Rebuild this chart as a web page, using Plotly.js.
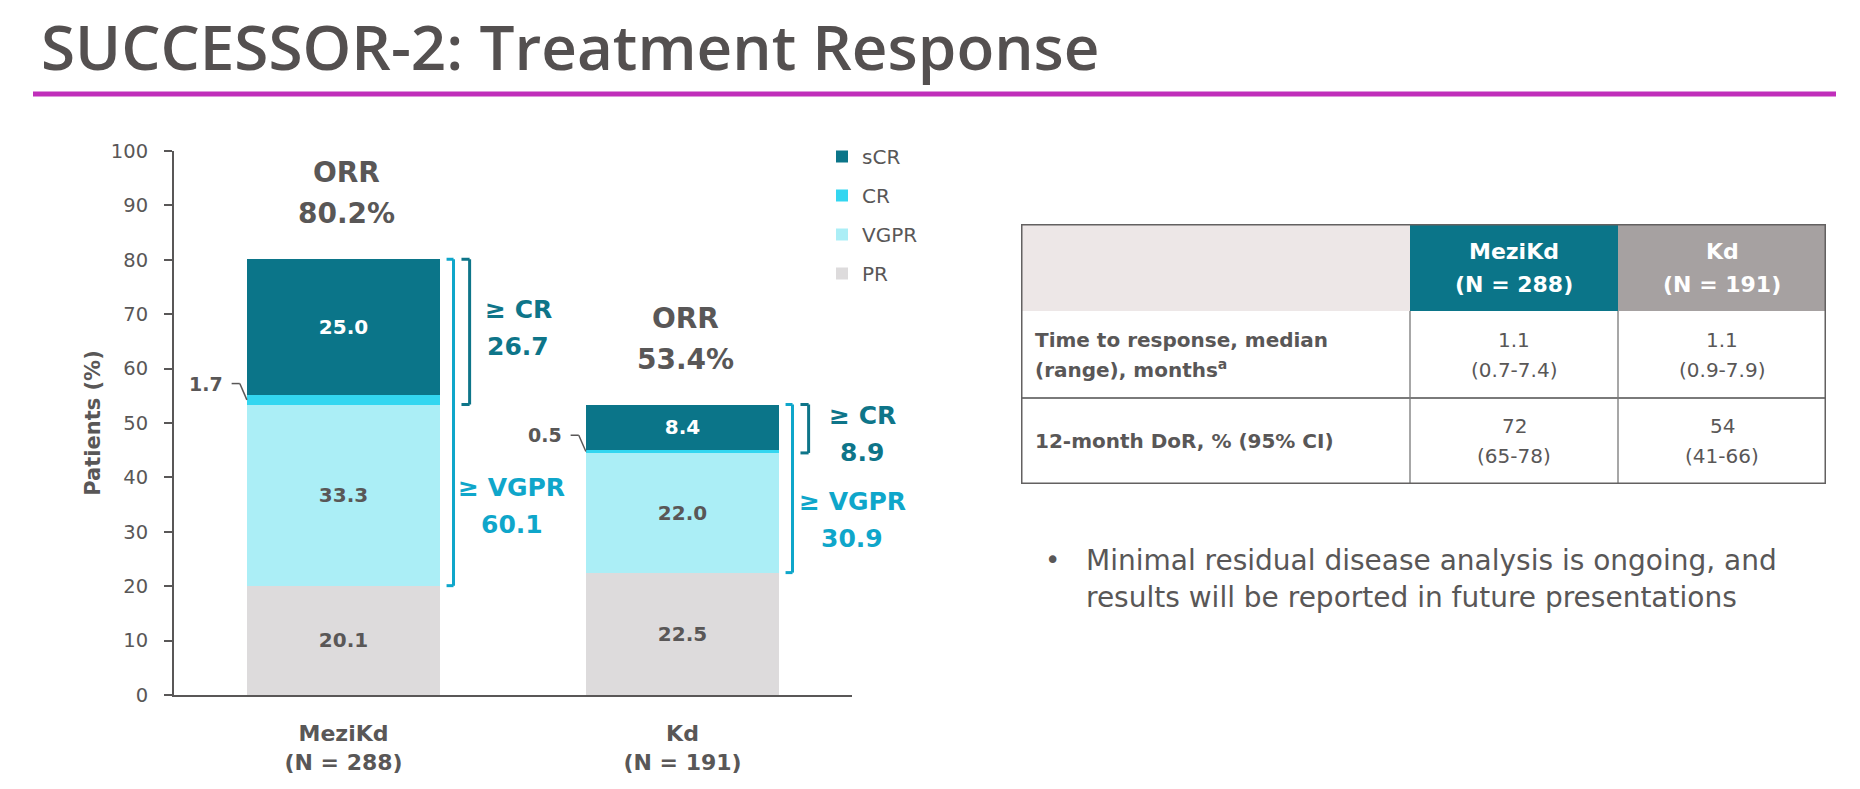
<!DOCTYPE html>
<html><head><meta charset="utf-8">
<script src="https://cdn.plot.ly/plotly-3.0.1.min.js"></script>
<style>html,body{margin:0;padding:0;background:#fff;}#chart{width:1860px;height:789px;}</style>
</head><body><div id="chart"></div>
<script>
// ---------- data ----------
const categories = ['MeziKd', 'Kd'];
const categoryN = ['(N = 288)', '(N = 191)'];
const prVals = [20.1, 22.5];
const vgprVals = [33.3, 22.0];
const crVals = [1.7, 0.5];
const scrVals = [25.0, 8.4];
const orrVals = [80.2, 53.4];
const geCRVals = [26.7, 8.9];
const geVGPRVals = [60.1, 30.9];
const yTickVals = [0, 10, 20, 30, 40, 50, 60, 70, 80, 90, 100];

const tableHeadTop = ['MeziKd', 'Kd'];
const tableHeadN = ['(N = 288)', '(N = 191)'];
const tableRowLabels = [['Time to response, median', '(range), months<sup>a</sup>'], ['12-month DoR, % (95% CI)']];
const tableMeziKd = [['1.1', '(0.7-7.4)'], ['72', '(65-78)']];
const tableKd = [['1.1', '(0.9-7.9)'], ['54', '(41-66)']];
const bulletLines = ['Minimal residual disease analysis is ongoing, and', 'results will be reported in future presentations'];

// ---------- style ----------
const W = 1860, H = 789;
const GRAY = '#595757';
const FONT = 'DejaVu Sans';
const C_SCR = '#0B7589', C_CR = '#33D6F0', C_VGPR = '#ABEEF6', C_PR = '#DDDBDC';
const C_BR_VGPR = '#0FA6CA', C_BR_CR = '#0E7589';
const PLOT = {x0: 174, x1: 852, yTop: 151, yBot: 695};
const X_RANGE = [-0.5, 1.5];
const TABLE = {x0: 1021, x1: 1826, y0: 224, y1: 484};
const colEdges = [0, 389, 597, 805];
const rowEdges = [0, 87, 174, 260];

const xIdx = categories.map((c, i) => i);
const fmt = v => v.toFixed(1);
// category-axis position -> paper fraction (for labels that sit right of the axis range)
const xPaper = v => (PLOT.x0 + (v - X_RANGE[0]) / (X_RANGE[1] - X_RANGE[0]) * (PLOT.x1 - PLOT.x0)) / W;

function barTrace(name, vals, color, textColor, showText, rank) {
  const t = {
    type: 'bar', name: name, x: categories, y: vals,
    marker: {color: color, line: {width: 0}},
    textposition: showText ? 'inside' : 'none',
    legendgroup: name, legendrank: rank, hoverinfo: 'skip', cliponaxis: false
  };
  if (showText) {
    t.text = vals.map(fmt);
    t.insidetextanchor = 'middle';
    t.constraintext = 'none';
    t.textfont = {family: FONT, size: 20, color: textColor, weight: 'bold'};
  }
  return t;
}

const traces = [
  barTrace('PR', prVals, C_PR, GRAY, true, 4),
  barTrace('VGPR', vgprVals, C_VGPR, GRAY, true, 3),
  barTrace('CR', crVals, C_CR, GRAY, false, 2),
  barTrace('sCR', scrVals, C_SCR, '#FFFFFF', true, 1),
  {type: 'scatter', x: [], y: [], xaxis: 'x2', yaxis: 'y2', showlegend: false, hoverinfo: 'skip'}
];

const shapes = [];
const annotations = [];

// purple rule under title
shapes.push({type: 'line', xref: 'paper', yref: 'paper', x0: 33 / W, x1: 1836 / W, y0: 1 - 94 / H, y1: 1 - 94 / H,
  line: {color: '#C02EBA', width: 5}});

// brackets
function bracket(xc, y0, y1, outer, inner, color) {
  const L = {color: color, width: 3};
  shapes.push({type: 'line', xref: 'x', yref: 'y', x0: xc + outer, x1: xc + outer, y0: y0, y1: y1, line: L});
  shapes.push({type: 'line', xref: 'x', yref: 'y', x0: xc + inner, x1: xc + outer, y0: y1, y1: y1, line: L});
  shapes.push({type: 'line', xref: 'x', yref: 'y', x0: xc + inner, x1: xc + outer, y0: y0, y1: y0, line: L});
}
function lines2(xref, yref, x, y, lines, spacing, font, xanchor) {
  lines.forEach((t, k) => {
    annotations.push({xref: xref, yref: yref, x: x, y: y, text: t, showarrow: false,
      xanchor: xanchor || 'center', yanchor: 'middle',
      yshift: ((lines.length - 1) / 2 - k) * spacing, font: font});
  });
}

xIdx.forEach(i => {
  const pr = prVals[i], vg = vgprVals[i], cr = crVals[i], sc = scrVals[i];
  const total = pr + vg + cr + sc;
  bracket(i, pr, total, 0.3245, 0.304, C_BR_VGPR);
  bracket(i, pr + vg, total, 0.372, 0.348, C_BR_CR);
  // ORR labels
  lines2('x', 'y', i + 0.008, total + 12.1, ['ORR', orrVals[i].toFixed(1) + '%'], 41,
    {family: FONT, size: 28, color: GRAY, weight: 'bold'});
  // >= CR
  lines2('paper', 'y', xPaper(i + (i === 0 ? 0.515 : 0.53)), (i === 0 ? 67.4 : 48.0), ['\u2265 CR', fmt(geCRVals[i])], 37,
    {family: FONT, size: 25, color: C_BR_CR, weight: 'bold'});
  // >= VGPR
  lines2('paper', 'y', xPaper(i + (i === 0 ? 0.497 : 0.50)), (i === 0 ? 34.7 : 32.1), ['\u2265 VGPR', fmt(geVGPRVals[i])], 37,
    {family: FONT, size: 25, color: C_BR_VGPR, weight: 'bold'});
  // CR callout
  const crMid = pr + vg + cr / 2;
  const ly = crMid + 3;
  shapes.push({type: 'line', xref: 'x', yref: 'y', x0: i - 0.33, x1: i - 0.306, y0: ly, y1: ly, line: {color: GRAY, width: 1.5}});
  shapes.push({type: 'line', xref: 'x', yref: 'y', x0: i - 0.306, x1: i - 0.285, y0: ly, y1: crMid, line: {color: GRAY, width: 1.5}});
  annotations.push({xref: 'x', yref: 'y', x: i - 0.35, y: ly, text: fmt(cr), showarrow: false,
    xanchor: 'right', yanchor: 'middle', font: {family: FONT, size: 19, color: GRAY, weight: 'bold'}});
});

// ---------- table (hidden axes x2/y2, pixel-like units) ----------
const hdrFills = ['#EDE7E7', '#0B7589', '#A6A1A1'];
hdrFills.forEach((f, c) => {
  shapes.push({type: 'rect', xref: 'x2', yref: 'y2', x0: colEdges[c], x1: colEdges[c + 1], y0: rowEdges[0], y1: rowEdges[1],
    fillcolor: f, line: {width: 0}, layer: 'below'});
});
[1, 2].forEach(c => {
  shapes.push({type: 'line', xref: 'x2', yref: 'y2', x0: colEdges[c], x1: colEdges[c], y0: rowEdges[1], y1: rowEdges[3],
    line: {color: '#8A8A8A', width: 1.5}});
});
shapes.push({type: 'line', xref: 'x2', yref: 'y2', x0: colEdges[0], x1: colEdges[3], y0: rowEdges[2], y1: rowEdges[2],
  line: {color: '#7A7A7A', width: 2}});
shapes.push({type: 'rect', xref: 'x2', yref: 'y2', x0: colEdges[0], x1: colEdges[3], y0: rowEdges[0], y1: rowEdges[3],
  line: {color: '#636161', width: 3}, fillcolor: 'rgba(0,0,0,0)'});

const colMid = c => (colEdges[c] + colEdges[c + 1]) / 2;
const rowMid = r => (rowEdges[r] + rowEdges[r + 1]) / 2;
tableHeadTop.forEach((t, k) => {
  lines2('x2', 'y2', colMid(k + 1), rowMid(0), [t, tableHeadN[k]], 33,
    {family: FONT, size: 22, color: '#FFFFFF', weight: 'bold'});
});
tableRowLabels.forEach((lab, r) => {
  lines2('x2', 'y2', 12, rowMid(r + 1), lab, 29, {family: FONT, size: 20, color: GRAY, weight: 'bold'}, 'left');
  lines2('x2', 'y2', colMid(1), rowMid(r + 1), tableMeziKd[r], 30, {family: FONT, size: 20, color: GRAY});
  lines2('x2', 'y2', colMid(2), rowMid(r + 1), tableKd[r], 30, {family: FONT, size: 20, color: GRAY});
});

// bullet
annotations.push({xref: 'paper', yref: 'paper', x: 1043 / W, y: 1 - 560 / H, text: '\u2022', showarrow: false,
  xanchor: 'left', yanchor: 'middle', font: {family: FONT, size: 26, color: GRAY}});
bulletLines.forEach((t, k) => {
  annotations.push({xref: 'paper', yref: 'paper', x: 1084 / W, y: 1 - (560 + 37 * k) / H, text: t, showarrow: false,
    xanchor: 'left', yanchor: 'middle', font: {family: FONT, size: 28, color: GRAY}});
});

const layout = {
  width: W, height: H,
  margin: {l: 0, r: 0, t: 0, b: 0},
  paper_bgcolor: '#FFFFFF', plot_bgcolor: 'rgba(0,0,0,0)',
  font: {family: FONT, color: GRAY},
  title: {text: 'SUCCESSOR-2: Treatment Response', x: 41 / W, xanchor: 'left', y: 1 - 48 / H, yanchor: 'middle',
    font: {family: 'Open Sans', size: 62, color: '#545050', weight: 600}},
  barmode: 'stack', bargap: 0.43,
  showlegend: true,
  legend: {x: 822 / W, xanchor: 'left', y: 1 - 137 / H, yanchor: 'top', traceorder: 'grouped',
    tracegroupgap: 10, font: {family: FONT, size: 20, color: GRAY}, bgcolor: 'rgba(0,0,0,0)', itemclick: false},
  xaxis: {
    domain: [PLOT.x0 / W, PLOT.x1 / W], anchor: 'y', type: 'category', range: X_RANGE,
    tickmode: 'array', tickvals: categories, ticktext: categories.map((c, i) => c + '<br>' + categoryN[i]),
    ticks: '', showline: true, linecolor: GRAY, linewidth: 2, showgrid: false, zeroline: false,
    tickfont: {family: FONT, size: 22, color: GRAY, weight: 'bold'}, ticklabelstandoff: 18, fixedrange: true
  },
  yaxis: {
    domain: [(H - PLOT.yBot) / H, (H - PLOT.yTop) / H], anchor: 'x', range: [0, 100],
    tickmode: 'array', tickvals: yTickVals, ticks: 'outside', ticklen: 8, tickwidth: 2, tickcolor: GRAY,
    showline: true, linecolor: GRAY, linewidth: 2, showgrid: false, zeroline: false,
    tickfont: {family: FONT, size: 19.5, color: GRAY}, ticklabelstandoff: 12,
    title: {text: 'Patients (%)', font: {family: FONT, size: 21, color: GRAY, weight: 'bold'}, standoff: 5},
    automargin: false, fixedrange: true
  },
  xaxis2: {domain: [TABLE.x0 / W, TABLE.x1 / W], anchor: 'y2', range: [0, 805], visible: false, fixedrange: true},
  yaxis2: {domain: [(H - TABLE.y1) / H, (H - TABLE.y0) / H], anchor: 'x2', range: [260, 0], visible: false, fixedrange: true},
  shapes: shapes,
  annotations: annotations
};

Plotly.newPlot('chart', traces, layout, {displayModeBar: false, staticPlot: true});
</script></body></html>
